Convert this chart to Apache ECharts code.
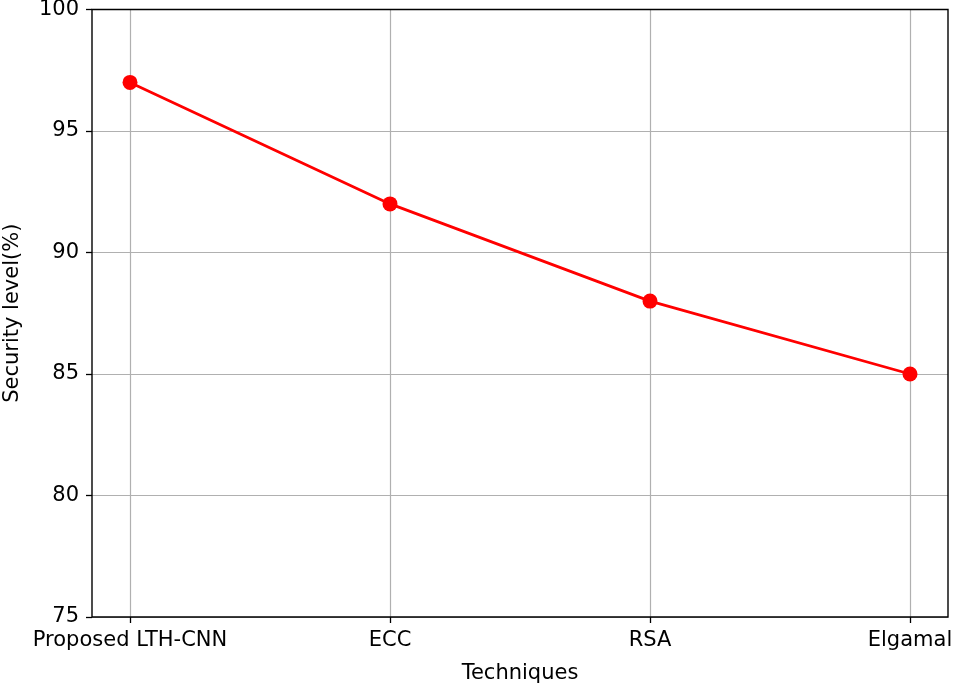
<!DOCTYPE html>
<html>
<head>
<meta charset="utf-8">
<script src="https://cdn.jsdelivr.net/npm/echarts@6/dist/echarts.min.js"></script>
<style>
  html, body { margin: 0; padding: 0; background: #fff; }
  #chart { width: 955px; height: 689px; }
</style>
</head>
<body>
<div id="chart"></div>
<script>
// données
const techniques = ["Proposed LTH-CNN", "ECC", "RSA", "Elgamal"];
const securityLevel = [97, 92, 88, 85];
const yTicks = [75, 80, 85, 90, 95, 100];

const FONT = "DejaVu Sans";
const FS = 21;
const chart = echarts.init(document.getElementById("chart"), null, { renderer: "canvas" });

// grille 0 : axe Y + lignes horizontales (marges de 5 % façon matplotlib)
// grille 1 : axe catégoriel des techniques, resserré à l'intérieur du cadre
const FRAME = { left: 92, top: 9.5, width: 856, height: 607.5 };

chart.setOption({
  animation: false,
  grid: [
    { left: FRAME.left, width: FRAME.width, top: FRAME.top, height: FRAME.height,
      outerBoundsMode: "none" },
    { left: 130, width: 780, top: FRAME.top, height: FRAME.height,
      outerBoundsMode: "none" },
  ],
  // le cadre noir par-dessus les lignes de grille
  graphic: [{
    type: "rect", z: 100, silent: true,
    shape: { x: FRAME.left, y: FRAME.top, width: FRAME.width, height: FRAME.height },
    style: { fill: "none", stroke: "#000", lineWidth: 1.4 },
  }],
  xAxis: [
    { gridIndex: 0, type: "value", show: false, min: 0, max: 1 },
    {
      gridIndex: 1, type: "category", data: techniques, boundaryGap: false,
      axisLine: { show: false },
      axisTick: { show: true, inside: false, length: 6, alignWithLabel: true,
                  lineStyle: { color: "#000", width: 1.3 } },
      axisLabel: { color: "#000", fontFamily: FONT, fontSize: FS, margin: 13 },
      splitLine: { show: true, lineStyle: { color: "#b0b0b0", width: 1.2 } },
      name: "Techniques", nameLocation: "middle", nameGap: 46,
      nameTextStyle: { color: "#000", fontFamily: FONT, fontSize: FS },
    },
  ],
  yAxis: [
    {
      gridIndex: 0, type: "value", min: yTicks[0], max: yTicks[yTicks.length - 1], interval: 5,
      axisLine: { show: false },
      axisTick: { show: true, length: 6, lineStyle: { color: "#000", width: 1.3 } },
      axisLabel: { color: "#000", fontFamily: FONT, fontSize: FS, margin: 13 },
      splitLine: { show: true, lineStyle: { color: "#b0b0b0", width: 1.2 } },
      name: "Security level(%)", nameLocation: "middle", nameGap: 69, nameRotate: 90,
      nameTextStyle: { color: "#000", fontFamily: FONT, fontSize: FS },
    },
    { gridIndex: 1, type: "value", show: false, min: 75, max: 100 },
  ],
  series: [{
    type: "line", xAxisIndex: 1, yAxisIndex: 1,
    data: securityLevel,
    symbol: "circle", symbolSize: 15,
    lineStyle: { color: "#ff0000", width: 2.8 },
    itemStyle: { color: "#ff0000" },
    z: 5,
  }],
});

window.addEventListener("resize", () => chart.resize());
</script>
</body>
</html>
